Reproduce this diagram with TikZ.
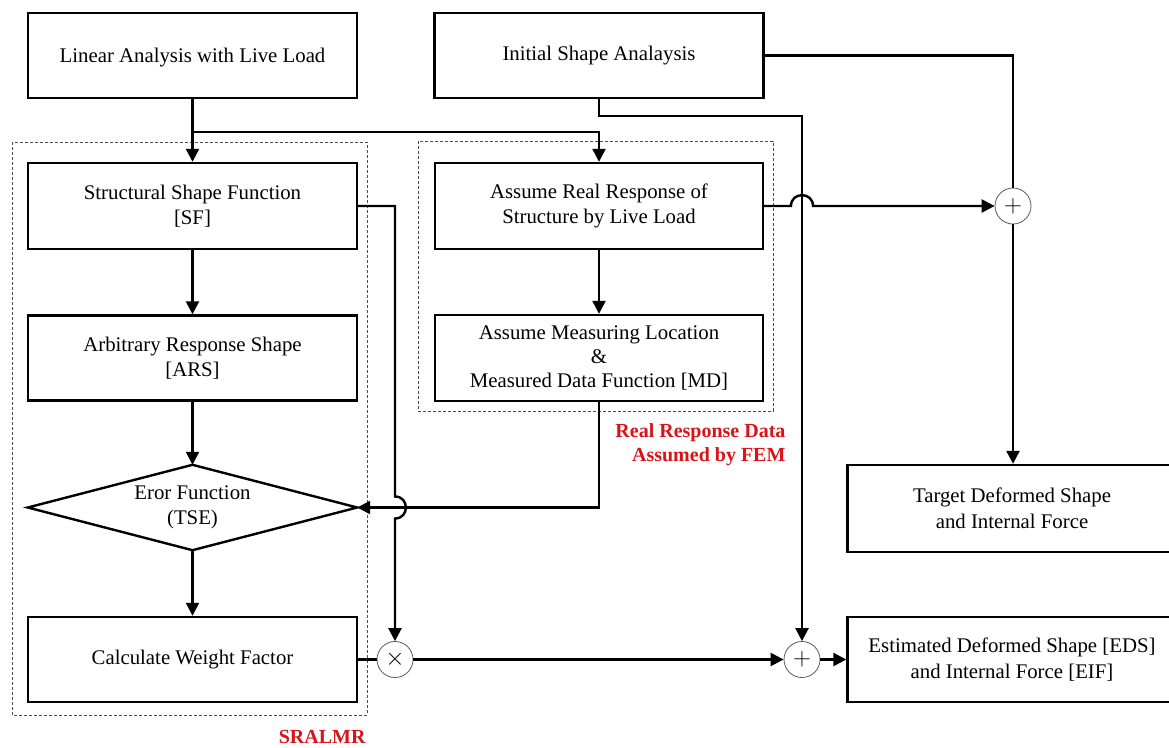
\documentclass[tikz,border=0pt]{standalone}
\usepackage{fontspec}
\setmainfont{Liberation Serif}
\usetikzlibrary{arrows.meta,calc}
\definecolor{redlab}{RGB}{215,20,25}
\begin{document}
\begin{tikzpicture}[x=1pt,y=-1pt,
  txt/.style={font=\fontsize{20.8}{25.5}\selectfont},
  box/.style={txt,draw,line width=2.4pt,align=center,inner sep=2pt,minimum width=329pt},
  diabox/.style={txt,align=center,inner sep=0pt,minimum width=329pt,minimum height=85pt},
  op/.style={draw,circle,gray!70!black,line width=0.8pt,minimum size=36pt,inner sep=0pt,text=black,font=\fontsize{24}{24}\selectfont},
  wire/.style={line width=2.4pt},
  conn/.style={wire,-{Triangle[length=13pt,width=13pt]}},
  frame/.style={draw=gray!60!black,line width=0.9pt,dash pattern=on 3pt off 2pt},
  redtxt/.style={text=redlab,font=\bfseries\fontsize{20}{24}\selectfont,align=right}
]
\useasboundingbox (0,0) rectangle (1169,747);
% dashed frames
\draw[frame] (12,142) rectangle (367,715);
\draw[frame] (418,141) rectangle (773,411);
% nodes
\node[box,minimum height=85pt,text depth=-4pt] (lin) at (192.5,55.5) {Linear Analysis with Live Load};
\node[box,minimum height=85pt] (isa) at (599,55.5) {Initial Shape Analaysis};
\node[box,minimum height=86pt] (sf) at (192.5,206) {Structural Shape Function\\{}[SF]};
\node[box,minimum width=328pt,minimum height=86pt] (ar) at (599,206) {Assume Real Response of\\Structure by Live Load};
\node[box,minimum height=85pt] (ars) at (192.5,358) {Arbitrary Response Shape\\{}[ARS]};
\node[box,minimum width=328pt,minimum height=86pt,font=\fontsize{20.8}{24}\selectfont] (md) at (599,358) {Assume Measuring Location\\\&\\Measured Data Function [MD]};
\node[diabox] (diam) at (192.5,507.5) {Eror Function\\(TSE)};
\draw[line width=2.4pt,line join=miter] (diam.west) -- (diam.north) -- (diam.east) -- (diam.south) -- cycle;
\node[box,minimum height=85pt] (wf) at (192.5,659.5) {Calculate Weight Factor};
\node[box,minimum height=87pt] (tds) at (1012,508.5) {Target Deformed Shape\\and Internal Force};
\node[box,minimum height=85pt] (eds) at (1012,659.5) {Estimated Deformed Shape [EDS]\\and Internal Force [EIF]};
\node[op] (plusT) at (1013,206) {$+$};
\node[op] (mul) at (395,659.5) {$\times$};
\node[op] (plusB) at (802,659.5) {$+$};
\node[redtxt,anchor=east] (rrd) at (789,445) {Real Response Data\\Assumed by FEM};
\node[redtxt,anchor=east] (sralmr) at (369,737) {SRALMR};
% connectors
\draw[conn] (lin.south) -- (sf.north);
\coordinate (br) at ($(lin.south)+(0,33)$);
\draw[conn] (br) -| (ar.north);
\draw[conn] (sf.south) -- (ars.north);
\draw[conn] (ars.south) -- (diam.north);
\draw[conn] (diam.south) -- (wf.north);
\draw[conn] (ar.south) -- (md.north);
\draw[conn] (md.south) |- (diam.east);
% SF to multiply, hopping over the MD line
\coordinate (h1a) at ($(mul |- diam.east)+(0,-11)$);
\coordinate (h1b) at ($(mul |- diam.east)+(0,11)$);
\draw[conn] (sf.east) -- (sf.east -| mul) -- (h1a) .. controls ($(h1a)+(14.5,0)$) and ($(h1b)+(14.5,0)$) .. (h1b) -- (mul.north);
% initial shape to lower plus
\coordinate (isad) at ($(isa.south)+(0,17)$);
\draw[conn] (isa.south) -- (isad) -| (plusB.north);
% real response to upper plus, hopping over vertical
\coordinate (h2a) at ($(ar.east -| plusB)+(-11,0)$);
\coordinate (h2b) at ($(ar.east -| plusB)+(11,0)$);
\draw[conn] (ar.east) -- (h2a) .. controls ($(h2a)+(0,-14.5)$) and ($(h2b)+(0,-14.5)$) .. (h2b) -- (plusT.west);
\draw[wire] (isa.east) -| (plusT.north);
\draw[conn] (plusT.south) -- (plusT.south |- tds.north);
\draw[wire] (wf.east) -- (mul.west);
\draw[conn] (mul.east) -- (plusB.west);
\draw[conn] (plusB.east) -- (eds.west);
\end{tikzpicture}
\end{document}
